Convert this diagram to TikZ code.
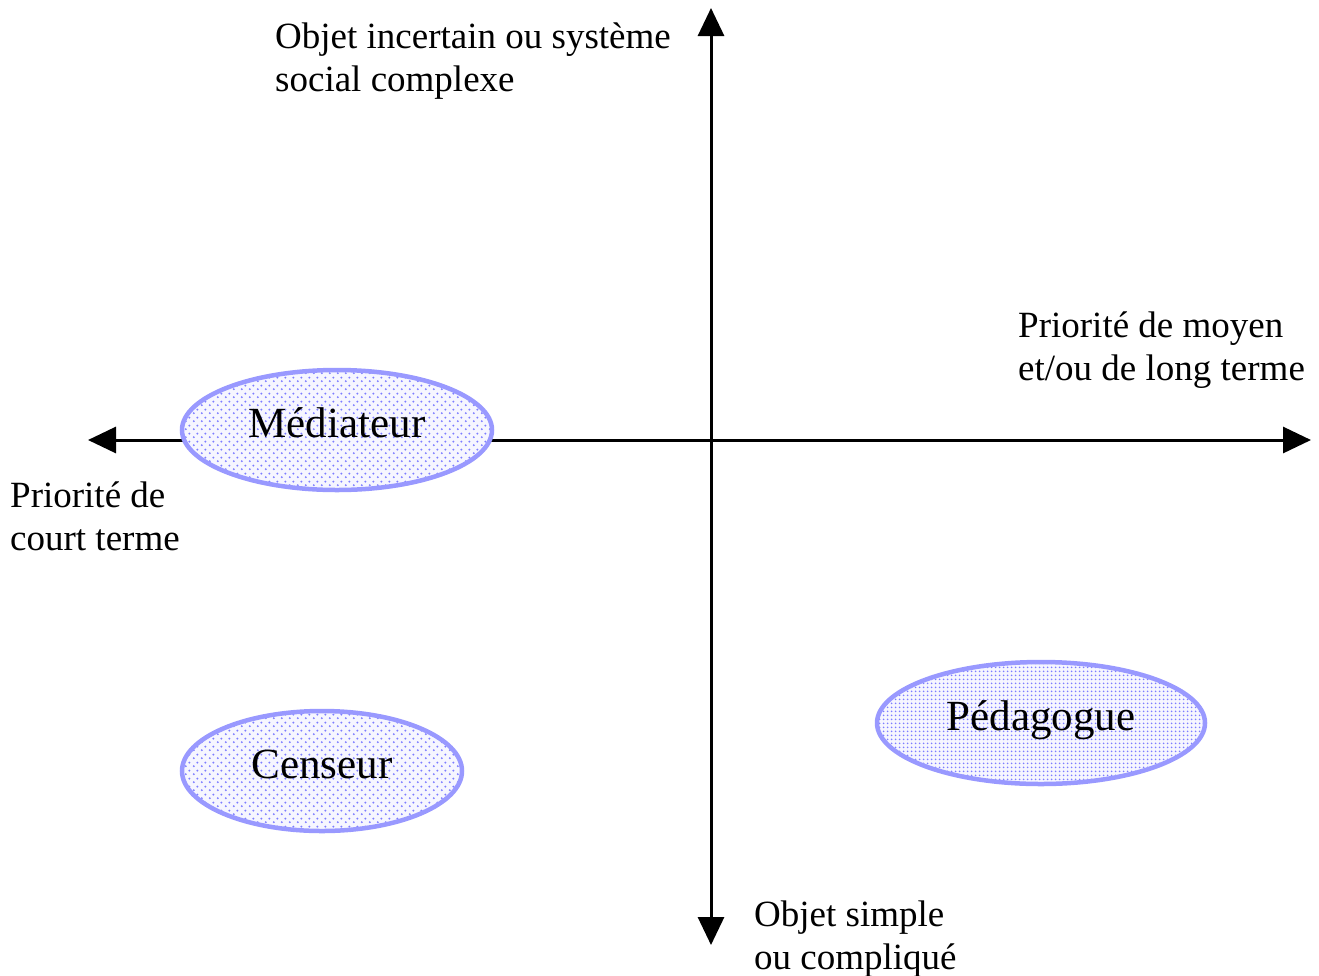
\documentclass[tikz,border=0pt]{standalone}
\usepackage{fontspec}
\setmainfont{Liberation Serif}
\usetikzlibrary{arrows.meta,shapes.geometric,patterns.meta}
\definecolor{rolecol}{RGB}{153,153,255}
\definecolor{dotcol}{RGB}{125,125,255}
\definecolor{rolebg}{RGB}{246,246,255}
% staggered sparse dots and a denser square grid of dots
\tikzdeclarepattern{name=sparsedots,type=uncolored,
  bounding box={(0pt,0pt) and (8pt,8pt)},tile size={(8pt,8pt)},
  code={\fill (2pt,2pt) circle (1.2pt); \fill (6pt,6pt) circle (1.2pt);}}
\tikzdeclarepattern{name=densedots,type=uncolored,
  bounding box={(0pt,0pt) and (3.6pt,3.6pt)},tile size={(3.6pt,3.6pt)},
  code={\fill (1.8pt,1.8pt) circle (1pt);}}
\tikzset{
  axis/.style={line width=3pt,-{Triangle[length=28pt,width=26pt]}},
  lbl/.style={anchor=base west,align=left,inner sep=0pt,font=\fontsize{37}{43}\selectfont},
  role/.style={ellipse,draw=rolecol,line width=4.5pt,inner sep=0pt,
    preaction={fill=rolebg},pattern=sparsedots,pattern color=dotcol},
  rolename/.style={anchor=base,inner sep=0pt,font=\fontsize{43}{48}\selectfont},
}
\begin{document}
\begin{tikzpicture}[x=1pt,y=-1pt]
\useasboundingbox (0,0) rectangle (1319,975);
% axes
\coordinate (xl) at (88,440);
\coordinate (xr) at (1311,440);
\coordinate (yt) at (711,8);
\coordinate (yb) at (711,945);
\coordinate (o) at (711,440);
\draw[axis] (o) -- (xr);
\draw[axis] (o) -- (xl);
\draw[axis] (o) -- (yt);
\draw[axis] (o) -- (yb);
% axis labels (positioned on the baseline of their last line)
\node[lbl] (top) at (275,91) {Objet incertain ou système\\social complexe};
\node[lbl] (right) at (1018,380) {Priorité de moyen\\et/ou de long terme};
\node[lbl] (left) at (10,550) {Priorité de\\court terme};
\node[lbl] (bottom) at (754,969) {Objet simple\\ou compliqué};
% roles
\node[role,minimum width=310pt,minimum height=120pt] (med) at (337,430) {};
\node[rolename] (medtxt) at (337,437) {Médiateur};
\node[role,minimum width=280pt,minimum height=120pt] (cen) at (322,771) {};
\node[rolename] (centxt) at (322,778) {Censeur};
\node[role,minimum width=328pt,minimum height=122pt,pattern=densedots] (ped) at (1041,723) {};
\node[rolename] (pedtxt) at (1041,730) {Pédagogue};
\end{tikzpicture}
\end{document}
